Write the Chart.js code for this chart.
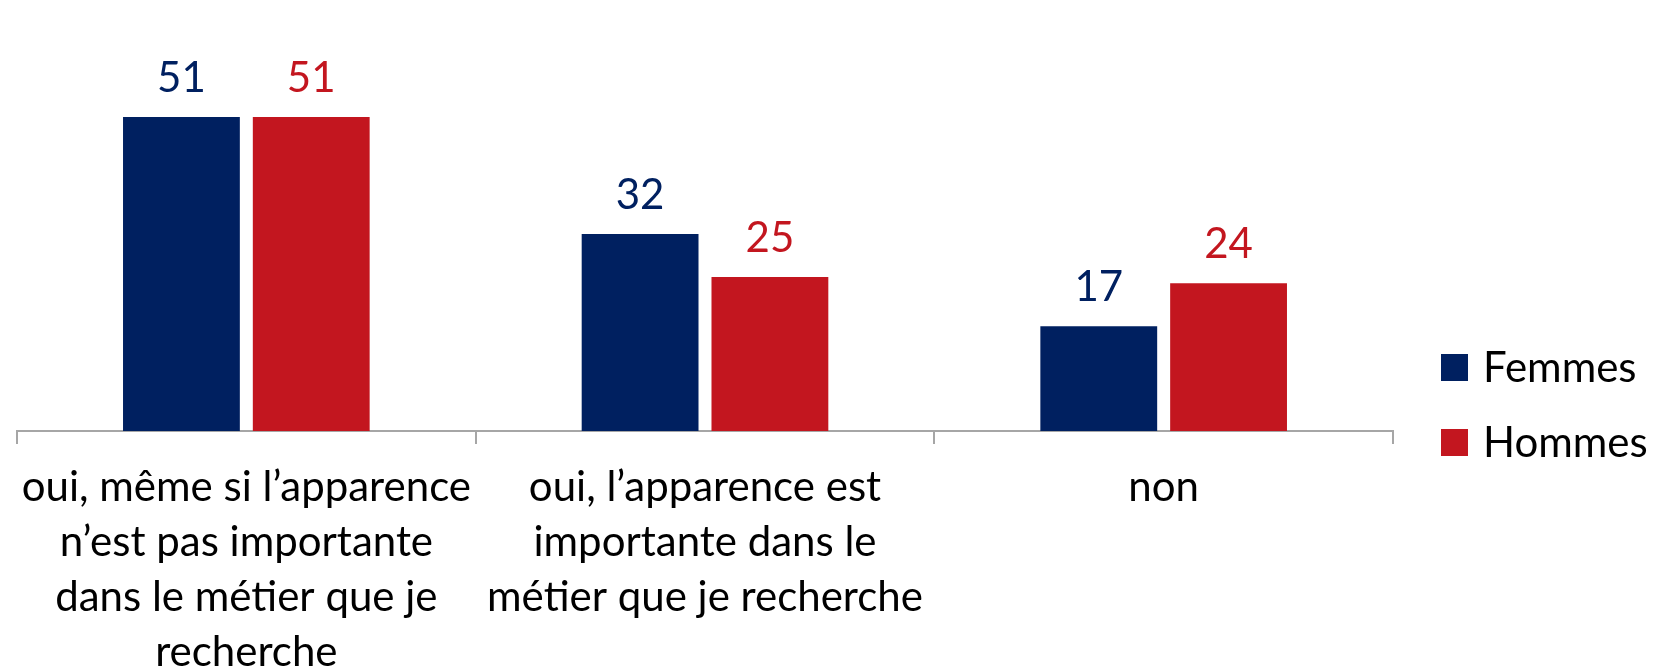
<!DOCTYPE html>
<html>
<head>
<meta charset="utf-8">
<script src="https://cdn.jsdelivr.net/npm/chart.js@4"></script>
<style>
	body { margin: 0; background: #fff; }
	#wrap { width: 1655px; height: 672px; position: relative; }
</style>
</head>
<body>
<div id="wrap"><canvas id="graphApparence"></canvas></div>
<script>
// donnees
var categories = [
	["oui, même si l\u2019apparence", "n\u2019est pas importante", "dans le métier que je", "recherche"],
	["oui, l\u2019apparence est", "importante dans le", "métier que je recherche"],
	["non"]
];
var series = ["Femmes", "Hommes"];
var femmes = [51, 32, 17];
var hommes = [51, 25, 24];

var couleurs = {
	bleu: "#002060",
	rouge: "#C3161F",
};
var police = "Lato, 'Open Sans', sans-serif";

// valeurs au-dessus des barres
var etiquettes = {
	id: "etiquettes",
	afterDatasetsDraw: function (chart) {
		var ctx = chart.ctx;
		ctx.save();
		ctx.font = "42px " + police;
		ctx.textAlign = "center";
		ctx.textBaseline = "bottom";
		chart.data.datasets.forEach(function (ds, i) {
			chart.getDatasetMeta(i).data.forEach(function (bar, j) {
				ctx.fillStyle = ds.backgroundColor;
				ctx.fillText(ds.data[j], bar.x, bar.y - 18);
			});
		});
		ctx.restore();
	}
};

// legende a droite
var legende = {
	id: "legende",
	afterDraw: function (chart) {
		var ctx = chart.ctx;
		ctx.save();
		ctx.font = "42px " + police;
		ctx.textBaseline = "middle";
		chart.data.datasets.forEach(function (ds, i) {
			var y = 367 + i * 75;
			ctx.fillStyle = ds.backgroundColor;
			ctx.fillRect(1441, y - 13, 27, 27);
			ctx.fillStyle = "#000";
			ctx.fillText(ds.label, 1483, y + 1);
		});
		ctx.restore();
	}
};

var config = {
	type: "bar",
	data: {
		labels: categories,
		datasets: [
			{
				label: series[0],
				data: femmes,
				backgroundColor: couleurs.bleu,
			},
			{
				label: series[1],
				data: hommes,
				backgroundColor: couleurs.rouge,
			},
		],
	},
	options: {
		responsive: true,
		maintainAspectRatio: false,
		animation: false,
		categoryPercentage: 0.566,
		barPercentage: 0.9,
		layout: {
			padding: { left: 17, right: 262, top: 0, bottom: 0 },
		},
		plugins: {
			legend: { display: false },
			tooltip: { enabled: false },
		},
		scales: {
			x: {
				grid: {
					drawOnChartArea: false,
					tickLength: 13,
					color: "#a6a6a6",
					lineWidth: 2,
				},
				border: { color: "#a6a6a6", width: 2 },
				ticks: {
					color: "#000",
					padding: 16,
					maxRotation: 0,
					autoSkip: false,
					font: { family: police, size: 42, lineHeight: 1.31 },
				},
				afterFit: function (scale) {
					scale.height = 241;
				},
			},
			y: {
				display: false,
				min: 0,
				max: 70,
			},
		},
	},
	plugins: [etiquettes, legende],
};

var ctx = document.getElementById("graphApparence").getContext("2d");
window.graphApparence = new Chart(ctx, config);
</script>
</body>
</html>
